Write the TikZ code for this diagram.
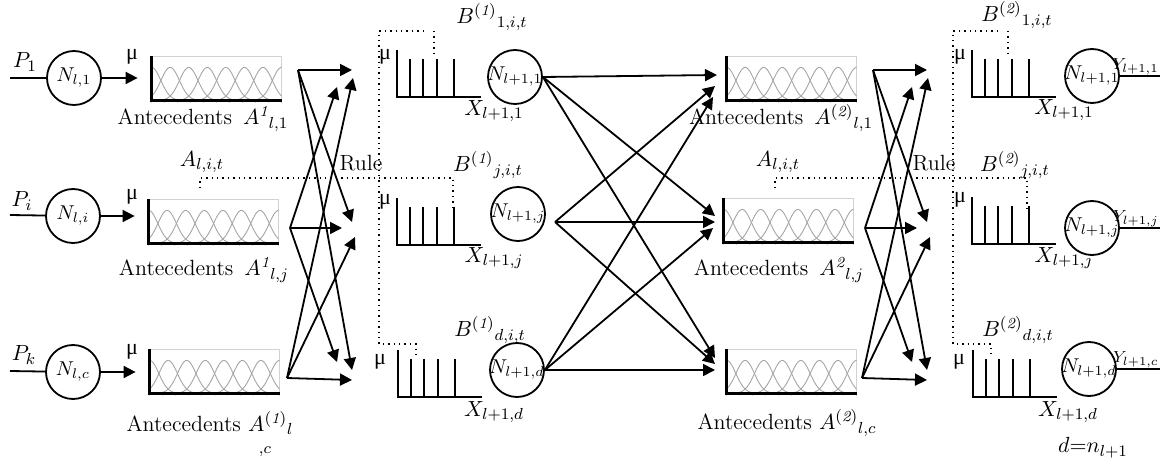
\documentclass[tikz,border=0pt]{standalone}
\usepackage{amsmath,amssymb}
\usepackage{fontspec}
\usepackage{xcolor}
\usepackage{tikz}
\usetikzlibrary{calc,arrows.meta,positioning}
\newfontfamily\greekmu{Liberation Serif}
\newcommand{\mumark}{{\greekmu μ}}
\definecolor{cCurve}{RGB}{165,165,165}
\definecolor{cFrame}{RGB}{210,210,210}

\tikzset{
  neuron/.style={draw,circle,line width=0.9pt,minimum size=27pt,inner sep=0pt,
    label={[inner sep=0pt,font=\fontsize{10}{12}\selectfont]center:#1}},
  mfbox/.style={minimum width=65pt,minimum height=22pt,inner sep=0pt},
  arr/.style={-{Triangle[length=6pt,width=6pt]},line width=0.9pt},
  link/.style={line width=0.9pt},
  ruledots/.style={dotted,line width=0.7pt},
  outlbl/.style={anchor=south east,inner sep=0.5pt,font=\fontsize{8}{10}\selectfont},
}

% membership functions inside an antecedent box
\newcommand{\mfcurves}[1]{%
  \begin{scope}[shift={(#1.south west)}]
    \draw[cFrame,line width=0.4pt] (0,0) rectangle (130,-44);
    \foreach \c [evaluate=\c as \lo using {max(0,\c-34)},
                 evaluate=\c as \hi using {min(130,\c+34)}] in {0,18.57,...,130}
      \draw[cCurve,line width=0.45pt] plot[domain=\lo:\hi,samples=40,smooth] (\x,{-33*exp(-((\x-\c)^2)/170)});
    \foreach \t in {0,13,...,130} \draw[cFrame,line width=0.4pt] (\t,0) -- (\t,3);
    \draw[line width=1.4pt] (0,-44) -- (0,0) -- (130,0);
  \end{scope}}

% singleton consequents
\newcommand{\spikes}[1]{%
  \begin{scope}[shift={(#1)}]
    \draw[line width=0.9pt] (0,-47) -- (0,0) -- (84,0);
    \foreach \b in {13,26,40,57} \draw[line width=0.9pt] (\b,0) -- (\b,-38);
  \end{scope}}

\begin{document}
\begin{tikzpicture}[x=0.5pt,y=-0.5pt,font=\fontsize{11}{13}\selectfont]
  \useasboundingbox (0,0) rectangle (1160,459);

  % input layer
  \node[neuron={$N_{l,1}$}] (n1) at (74,78) {};
  \node[neuron={$N_{l,i}$}] (ni) at (73,216) {};
  \node[neuron={$N_{l,c}$}] (nc) at (73,372) {};
  \node (p1) at (25,62) {$P_1$};
  \node (pi) at (22,201) {$P_i$};
  \node (pk) at (24,355) {$P_k$};
  \coordinate (in1) at (10,78);
  \coordinate (ini) at (10,215);
  \coordinate (inc) at (10,371);
  \draw[link] (in1) -- (n1);
  \draw[link] (ini) -- (ni);
  \draw[link] (inc) -- (nc);

  % antecedents, first stage
  \node[mfbox] (a1) at (217,78) {};
  \node[mfbox] (a2) at (214,221) {};
  \node[mfbox] (a3) at (215,371) {};
  \mfcurves{a1} \mfcurves{a2} \mfcurves{a3}
  \draw[arr,shorten >=7pt] (n1) -- (n1 -| a1.west);
  \draw[arr,shorten >=7pt] (ni) -- (ni -| a2.west);
  \draw[arr,shorten >=7pt] (nc) -- (nc -| a3.west);
  \node (mua1) at (132,57) {\mumark};
  \node (mua2) at (132,197) {\mumark};
  \node (mua3) at (132,352) {\mumark};
  \node (la1) at (203,119) {Antecedents\enspace$A^{\mathit{1}}{}_{l,1}$};
  \node (la2) at (204,270) {Antecedents\enspace$A^{\mathit{1}}{}_{l,j}$};
  \node (la3) at (210,423) {Antecedents $A^{\mathit{(1)}}{}_{l}$};
  \node (la3c) at (265,452) {$\scriptstyle ,c$};

  % antecedents, second stage
  \node[mfbox] (b1) at (792,78) {};
  \node[mfbox] (b2) at (789,220) {};
  \node[mfbox] (b3) at (792,371) {};
  \mfcurves{b1} \mfcurves{b2} \mfcurves{b3}
  \node (lb1) at (781,118) {Antecedents\enspace$A^{\mathit{(2)}}{}_{l,1}$};
  \node (lb2) at (779,270) {Antecedents\enspace$A^{\mathit{2}}{}_{l,j}$};
  \node (lb3) at (787,423) {Antecedents $A^{\mathit{(2)}}{}_{l,c}$};

  % rule arrows (both stages)
  \foreach \sd/\ox in {L/0,R/575}{
    \coordinate (\sd-s1) at (298+\ox,70);
    \coordinate (\sd-s2) at (290+\ox,228);
    \coordinate (\sd-s3) at (287+\ox,378);
    \coordinate (\sd-t11) at (352+\ox,70);
    \coordinate (\sd-t12) at (337+\ox,87);
    \coordinate (\sd-t13) at (353+\ox,78);
    \coordinate (\sd-t21) at (352+\ox,222);
    \coordinate (\sd-t22) at (342+\ox,228);
    \coordinate (\sd-t23) at (355+\ox,237);
    \coordinate (\sd-t31) at (352+\ox,370);
    \coordinate (\sd-t32) at (337+\ox,362);
    \coordinate (\sd-t33) at (352+\ox,380);
    \foreach \a/\b in {s1/t11,s1/t21,s1/t31,s2/t12,s2/t22,s2/t32,s3/t13,s3/t23,s3/t33}
      \draw[arr] (\sd-\a) -- (\sd-\b);
  }
  \node (rule1) at (361,163) {Rule};
  \node (rule2) at (934,163) {Rule};
  \node (ait1) at (202,162) {$A_{l,i,t}$};
  \node (ait2) at (778,162) {$A_{l,i,t}$};

  % dotted rule links
  \draw[ruledots] (200,188) -- (200,178) -- (453,178) -- (453,207);
  \draw[ruledots] (775,188) -- (775,178) -- (1027,178) -- (1027,208);
  \draw[ruledots] (424,31) -- (379,31) -- (379,344) -- (416,344) -- (416,357);
  \draw[ruledots] (434,31) -- (434,55);
  \draw[ruledots] (998,31) -- (953,31) -- (953,344) -- (991,344) -- (991,357);
  \draw[ruledots] (1008,31) -- (1008,53);

  % consequents, first stage
  \coordinate (hL1) at (397,97);
  \coordinate (hL2) at (397,245);
  \coordinate (hL3) at (398,397);
  \spikes{hL1} \spikes{hL2} \spikes{hL3}
  \node (muh1) at (385,57) {\mumark};
  \node (muh2) at (385,202) {\mumark};
  \node (muh3) at (380,362) {\mumark};
  \node (bl1) at (492,17) {$B^{\mathit{(1)}}{}_{1,i,t}$};
  \node (bl2) at (488,165) {$B^{\mathit{(1)}}{}_{j,i,t}$};
  \node (bl3) at (490,330) {$B^{\mathit{(1)}}{}_{d,i,t}$};
  \node (xl1) at (494,111) {$X_{l+1,1}$};
  \node (xl2) at (494,258) {$X_{l+1,j}$};
  \node (xl3) at (494,412) {$X_{l+1,d}$};

  % consequents, second stage
  \coordinate (hR1) at (972,97);
  \coordinate (hR2) at (972,244);
  \coordinate (hR3) at (973,397);
  \spikes{hR1} \spikes{hR2} \spikes{hR3}
  \node (muh4) at (960,57) {\mumark};
  \node (muh5) at (960,200) {\mumark};
  \node (muh6) at (959,362) {\mumark};
  \node (br1) at (1017,15) {$B^{\mathit{(2)}}{}_{1,i,t}$};
  \node (br2) at (1015,165) {$B^{\mathit{(2)}}{}_{j,i,t}$};
  \node (br3) at (1018,330) {$B^{\mathit{(2)}}{}_{d,i,t}$};
  \node (xr1) at (1064,110) {$X_{l+1,1}$};
  \node (xr2) at (1064,258) {$X_{l+1,j}$};
  \node (xr3) at (1068,412) {$X_{l+1,d}$};

  % hidden neurons and full connection
  \node[neuron={$N_{l+1,1}$}] (k1) at (515,77) {};
  \node[neuron={$N_{l+1,j}$}] (kj) at (518,214) {};
  \node[neuron={$N_{l+1,d}$}] (kd) at (517,370) {};
  \coordinate (mj) at (555,222);
  \coordinate (u1) at (717,75);
  \coordinate (u2) at (715,86);
  \coordinate (u3) at (713,97);
  \coordinate (v1) at (715,216);
  \coordinate (v2) at (715,222);
  \coordinate (v3) at (713,228);
  \coordinate (w1) at (715,358);
  \coordinate (w2) at (715,364);
  \coordinate (w3) at (715,370);
  \draw[arr] (k1.east) -- (u1);
  \draw[arr] (k1.east) -- (v1);
  \draw[arr] (k1.east) -- (w1);
  \draw[arr] (mj) -- (u2);
  \draw[arr] (mj) -- (v2);
  \draw[arr] (mj) -- (w2);
  \draw[arr] (kd.east) -- (u3);
  \draw[arr] (kd.east) -- (v3);
  \draw[arr] (kd.east) -- (w3);

  % output neurons
  \node[neuron={$N_{l+1,1}$}] (o1) at (1092,76) {};
  \node[neuron={$N_{l+1,j}$}] (oj) at (1092,228) {};
  \node[neuron={$N_{l+1,d}$}] (od) at (1089,369) {};
  \coordinate (y1) at (1160,76);
  \coordinate (yj) at (1160,228);
  \coordinate (yd) at (1160,369);
  \draw[link] (o1) -- (y1);
  \draw[link] (oj) -- (yj);
  \draw[link] (od) -- (yd);
  \node[outlbl] (yl1) at (y1) {$Y_{l+1,1}$};
  \node[outlbl] (ylj) at (yj) {$Y_{l+1,j}$};
  \node[outlbl] (yld) at (yd) {$Y_{l+1,c}$};
  \node (dn) at (1093,448) {$d{=}n_{l+1}$};
\end{tikzpicture}
\end{document}
